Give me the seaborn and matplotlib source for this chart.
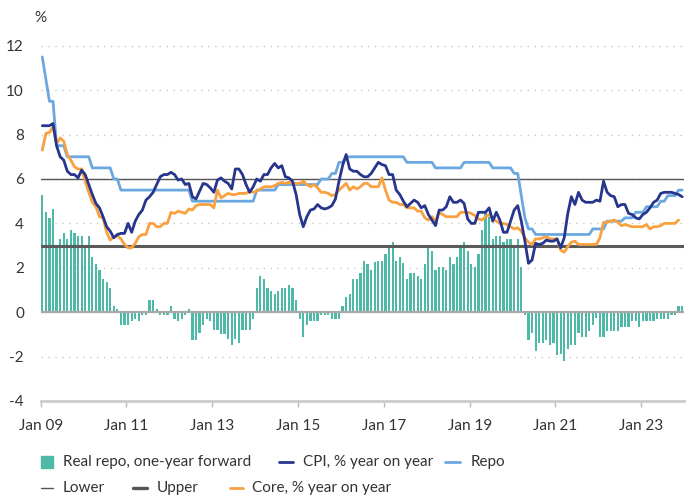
import numpy as np
import pandas as pd
import matplotlib.pyplot as plt
from matplotlib.lines import Line2D
from matplotlib.patches import Rectangle
import seaborn as sns

# monthly data, Jan 2009 - Dec 2023
tick_labels = ['Jan 09', 'Jan 11', 'Jan 13', 'Jan 15', 'Jan 17', 'Jan 19', 'Jan 21', 'Jan 23']

real_repo = [
    5.26, 4.52, 4.26, 4.65, 2.91, 3.30, 3.57, 3.30, 3.71, 3.57, 3.44, 3.44,
    3.00, 3.44, 2.49, 2.18, 1.91, 1.50, 1.37, 1.10, 0.29, 0.15, -0.57, -0.57,
    -0.57, -0.42, -0.30, -0.42, -0.15, -0.15, 0.55, 0.55, 0.15, -0.15, -0.15, -0.15,
    0.27, -0.30, -0.42, -0.30, -0.15, 0.15, -1.25, -1.25, -0.95, -0.57, -0.30, -0.42,
    -0.82, -0.82, -0.97, -0.97, -1.23, -1.50, -1.23, -1.38, -0.82, -0.82, -0.82, -0.30,
    1.10, 1.64, 1.50, 1.10, 0.96, 0.83, 0.96, 1.10, 1.10, 1.23, 1.10, 0.56,
    -0.30, -1.10, -0.57, -0.42, -0.42, -0.42, -0.15, -0.15, -0.15, -0.30, -0.30, -0.30,
    0.29, 0.69, 0.83, 1.50, 1.50, 1.77, 2.30, 2.17, 1.91, 2.25, 2.31, 2.31,
    2.63, 2.90, 3.15, 2.31, 2.49, 2.20, 1.50, 1.77, 1.77, 1.64, 1.50, 2.17,
    2.90, 2.76, 1.91, 2.04, 2.04, 1.91, 2.49, 2.18, 2.49, 2.90, 3.17, 2.76,
    2.18, 2.04, 2.63, 3.71, 4.45, 4.30, 3.30, 3.44, 3.44, 3.17, 3.30, 3.30,
    3.03, 3.30, 2.04, -0.15, -1.25, -0.96, -1.77, -1.38, -1.38, -1.25, -1.50, -1.38,
    -1.92, -1.90, -2.20, -1.65, -1.50, -1.50, -0.96, -1.10, -1.10, -0.83, -0.57, -0.28,
    -1.10, -1.10, -0.83, -0.83, -0.83, -0.83, -0.69, -0.69, -0.69, -0.42, -0.42, -0.69,
    -0.42, -0.42, -0.42, -0.42, -0.29, -0.29, -0.29, -0.29, -0.15, -0.15, 0.28, 0.28,
]

cpi = [
    8.4, 8.4, 8.4, 8.5, 7.5, 7.0, 6.85, 6.35, 6.2, 6.2, 6.05, 6.4,
    6.2, 5.75, 5.3, 4.9, 4.7, 4.3, 3.85, 3.65, 3.35, 3.5, 3.55, 3.55,
    4.0, 3.6, 4.1, 4.4, 4.6, 5.05, 5.2, 5.4, 5.75, 6.1, 6.2, 6.2,
    6.3, 6.2, 5.95, 6.0, 5.75, 5.8, 5.2, 5.1, 5.45, 5.8, 5.75, 5.6,
    5.4, 5.95, 6.05, 5.9, 5.8, 5.55, 6.45, 6.45, 6.2, 5.75, 5.4, 5.65,
    6.0, 5.9, 6.2, 6.2, 6.5, 6.7, 6.5, 6.6, 6.1, 6.05, 5.9, 5.3,
    4.4, 3.85, 4.3, 4.6, 4.65, 4.85, 4.7, 4.65, 4.7, 4.8, 5.1, 5.9,
    6.6, 7.1, 6.45, 6.35, 6.35, 6.2, 6.1, 6.1, 6.25, 6.5, 6.75, 6.65,
    6.6, 6.2, 6.2, 5.5, 5.3, 5.0, 4.75, 4.9, 5.05, 4.95, 4.7, 4.8,
    4.4, 4.15, 3.9, 4.6, 4.6, 4.75, 5.2, 4.95, 4.95, 5.05, 4.9, 4.2,
    4.0, 4.0, 4.5, 4.5, 4.5, 4.7, 4.1, 4.5, 4.15, 3.6, 3.6, 4.1,
    4.6, 4.8, 4.1, 3.2, 2.2, 2.35, 3.1, 3.05, 3.1, 3.25, 3.2, 3.2,
    3.3, 2.9, 3.35, 4.45, 5.2, 4.85, 5.4, 5.05, 4.95, 4.95, 4.95, 5.05,
    5.0, 5.9, 5.4, 5.25, 5.2, 4.75, 4.85, 4.85, 4.45, 4.4, 4.25, 4.2,
    4.4, 4.5, 4.7, 4.95, 5.05, 5.35, 5.4, 5.4, 5.4, 5.35, 5.3, 5.2,
]

repo = [
    11.5, 10.5, 9.5, 9.5, 7.5, 7.5, 7.5, 7.0, 7.0, 7.0, 7.0, 7.0,
    7.0, 7.0, 6.5, 6.5, 6.5, 6.5, 6.5, 6.5, 6.0, 6.0, 5.5, 5.5,
    5.5, 5.5, 5.5, 5.5, 5.5, 5.5, 5.5, 5.5, 5.5, 5.5, 5.5, 5.5,
    5.5, 5.5, 5.5, 5.5, 5.5, 5.5, 5.0, 5.0, 5.0, 5.0, 5.0, 5.0,
    5.0, 5.0, 5.0, 5.0, 5.0, 5.0, 5.0, 5.0, 5.0, 5.0, 5.0, 5.0,
    5.5, 5.5, 5.5, 5.5, 5.5, 5.5, 5.75, 5.75, 5.75, 5.75, 5.75, 5.75,
    5.75, 5.75, 5.75, 5.75, 5.75, 5.75, 6.0, 6.0, 6.0, 6.25, 6.25, 6.75,
    6.75, 7.0, 7.0, 7.0, 7.0, 7.0, 7.0, 7.0, 7.0, 7.0, 7.0, 7.0,
    7.0, 7.0, 7.0, 7.0, 7.0, 7.0, 6.75, 6.75, 6.75, 6.75, 6.75, 6.75,
    6.75, 6.75, 6.5, 6.5, 6.5, 6.5, 6.5, 6.5, 6.5, 6.5, 6.75, 6.75,
    6.75, 6.75, 6.75, 6.75, 6.75, 6.75, 6.5, 6.5, 6.5, 6.5, 6.5, 6.5,
    6.25, 6.25, 5.25, 4.25, 3.75, 3.75, 3.5, 3.5, 3.5, 3.5, 3.5, 3.5,
    3.5, 3.5, 3.5, 3.5, 3.5, 3.5, 3.5, 3.5, 3.5, 3.5, 3.75, 3.75,
    3.75, 3.75, 4.1, 4.1, 4.1, 4.1, 4.1, 4.25, 4.25, 4.25, 4.5, 4.5,
    4.5, 4.75, 4.75, 4.75, 4.75, 5.0, 5.0, 5.25, 5.25, 5.25, 5.5, 5.5,
]

core = [
    7.3, 8.05, 8.1, 8.35, 7.6, 7.85, 7.7, 7.1, 6.85, 6.55, 6.45, 6.45,
    5.9, 5.4, 4.95, 4.75, 4.3, 4.25, 3.6, 3.25, 3.4, 3.45, 3.3, 3.05,
    2.9, 2.9, 3.1, 3.4, 3.5, 3.5, 4.0, 4.0, 3.85, 3.85, 4.0, 4.0,
    4.5, 4.45, 4.55, 4.5, 4.45, 4.65, 4.6, 4.8, 4.85, 4.85, 4.85, 4.85,
    4.7, 5.5, 5.15, 5.25, 5.35, 5.3, 5.3, 5.35, 5.35, 5.35, 5.45, 5.4,
    5.45, 5.55, 5.65, 5.65, 5.65, 5.7, 5.8, 5.85, 5.8, 5.85, 5.8, 5.8,
    5.8, 5.9, 5.75, 5.65, 5.75, 5.6, 5.4, 5.4, 5.35, 5.25, 5.3, 5.5,
    5.65, 5.8, 5.5, 5.65, 5.55, 5.65, 5.8, 5.8, 5.65, 5.65, 5.65, 6.05,
    5.5, 5.05, 4.95, 4.95, 4.85, 4.85, 4.7, 4.7, 4.7, 4.55, 4.55, 4.25,
    4.15, 4.3, 4.1, 4.5, 4.4, 4.3, 4.3, 4.3, 4.3, 4.5, 4.5, 4.5,
    4.45, 4.35, 4.2, 4.15, 4.3, 4.4, 4.25, 4.1, 4.0, 4.0, 3.95, 3.85,
    3.75, 3.8, 3.65, 3.35, 3.15, 3.05, 3.3, 3.3, 3.35, 3.4, 3.3, 3.3,
    3.3, 2.8, 2.7, 2.95, 3.15, 3.2, 3.05, 3.05, 3.05, 3.05, 3.05, 3.05,
    3.35, 4.05, 4.05, 4.1, 4.15, 4.05, 3.9, 3.95, 3.9, 3.85, 3.85, 3.85,
    3.85, 3.95, 3.75, 3.85, 3.85, 3.9, 4.0, 4.0, 4.0, 4.0, 4.15, np.nan,
]

lower_band = 3
upper_band = 6

teal = '#4db9a6'
navy = '#27358c'
light_blue = '#6aa8df'
orange = '#f9a03f'
grey_line = '#555555'
text_col = '#333333'

df = pd.DataFrame({
    'm': np.arange(len(real_repo)) + 0.45,
    'real': real_repo, 'cpi': cpi, 'repo': repo, 'core': core,
})

sns.set_theme(style='white')
plt.rcParams['font.family'] = ['Lato', 'DejaVu Sans']

W, H = 686, 495
fig = plt.figure(figsize=(W / 100, H / 100), dpi=100)
ax = fig.add_axes([0.0593, 0.19, 0.938, 0.7264])

# bars
sns.barplot(data=df, x='m', y='real', native_scale=True, width=0.62,
            color=teal, saturation=1, errorbar=None, linewidth=0, ax=ax, zorder=2)

ax.axhline(0, color='#a8a8a8', lw=1.6, zorder=3)
ax.axhline(upper_band, color=grey_line, lw=1.0, zorder=3)
ax.axhline(lower_band, color='#5a5a5a', lw=2.2, zorder=3)

sns.lineplot(data=df, x='m', y='repo', color=light_blue, lw=2, ax=ax, zorder=4)
sns.lineplot(data=df, x='m', y='core', color=orange, lw=2, ax=ax, zorder=5)
sns.lineplot(data=df, x='m', y='cpi', color=navy, lw=2, ax=ax, zorder=6)

ax.set_xlim(0, 180)
ax.set_ylim(-4, 12.2)
ax.set_xticks(np.arange(0, 180, 24))
ax.set_xticklabels(tick_labels)
ax.set_yticks(np.arange(-4, 13, 2))
ax.set_yticklabels([str(v) for v in range(-4, 13, 2)])
ax.set_xlabel('')
ax.set_ylabel('')

ax.grid(axis='y', color='#c8c8c8', linestyle=(0, (1, 4)), lw=1)
ax.grid(axis='x', visible=False)
for s in ['top', 'right', 'left']:
    ax.spines[s].set_visible(False)
ax.spines['bottom'].set_color('#cccccc')
ax.spines['bottom'].set_linewidth(2)
ax.spines['bottom'].set_zorder(1)
ax.tick_params(axis='x', bottom=True, length=4, width=1, color='#bbbbbb',
               labelsize=11, labelcolor=text_col, pad=9)
ax.tick_params(axis='y', left=False, labelsize=11, labelcolor=text_col, pad=6)

fig.text(40.7 / W, 1 - 18 / H, '%', fontsize=11, color=text_col, ha='center', va='center')


# legend drawn item by item (pixel positions from the reference)
def px(x, y):
    return x / W, 1 - y / H


def legend_line(x0, x1, y, color, lw):
    (a, b), (c, _) = px(x0, y), px(x1, y)
    fig.add_artist(Line2D([a, c], [b, b], color=color, lw=lw, transform=fig.transFigure))


def legend_text(x, y, s):
    a, b = px(x, y)
    fig.text(a, b, s, fontsize=11, color=text_col, ha='left', va='center')


sx, sy = px(40.7, 467.7)
fig.add_artist(Rectangle((sx, sy), 12 / W, 12 / H, color=teal, transform=fig.transFigure))
legend_text(62.7, 461.7, 'Real repo, one-year forward')
legend_line(279, 293, 461.7, navy, 2)
legend_text(302.7, 461.7, 'CPI, % year on year')
legend_line(445, 460, 461.7, light_blue, 2)
legend_text(470.7, 461.7, 'Repo')

legend_line(40.7, 52.7, 488, grey_line, 1)
legend_text(62.7, 488, 'Lower')
legend_line(133, 147, 488, grey_line, 2.4)
legend_text(156.7, 488, 'Upper')
legend_line(230, 243, 488, orange, 2)
legend_text(252, 488, 'Core, % year on year')

fig.savefig('out.png', dpi=100)
